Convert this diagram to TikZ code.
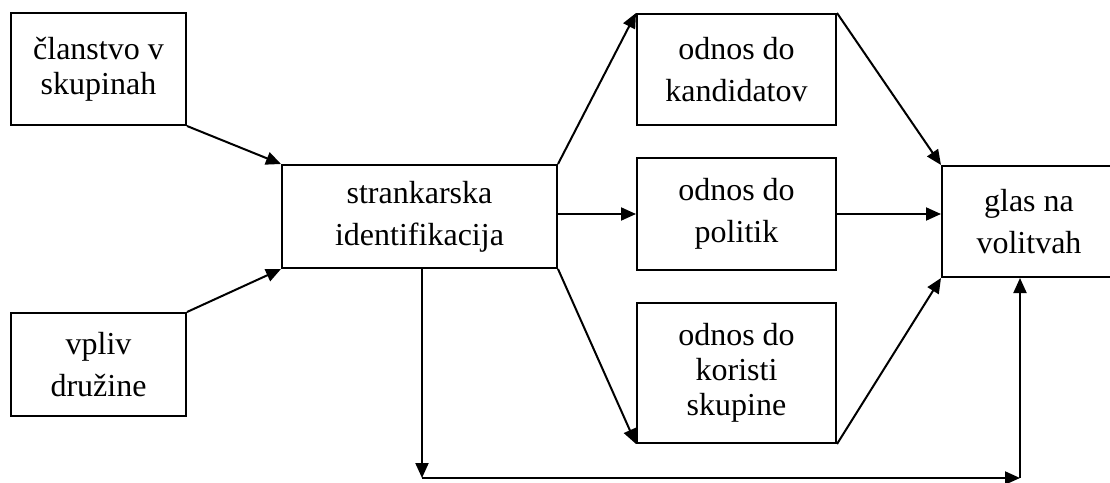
\documentclass[tikz,border=0pt]{standalone}
\usepackage{fontspec}
\setmainfont{Liberation Serif}
\usetikzlibrary{arrows.meta}
\begin{document}
\begin{tikzpicture}[x=1pt,y=-1pt,
  box/.style={draw,line width=2pt,rectangle,align=center,inner sep=0pt,
    font=\fontsize{32}{42}\selectfont},
  tight/.style={font=\fontsize{32}{35}\selectfont},
  arr/.style={line width=2pt,-{Triangle[length=15pt,width=13pt]}},
  ]
\useasboundingbox (0,0) rectangle (1110,482);
\node[box,tight,minimum width=175pt,minimum height=112pt] (A) at (98.5,69) {članstvo v\\skupinah};
\node[box,minimum width=175pt,minimum height=103pt] (B) at (98.5,364.5) {vpliv\\družine};
\node[box,minimum width=275pt,minimum height=103pt] (S) at (419.5,216.5) {strankarska\\identifikacija};
\node[box,minimum width=199pt,minimum height=111pt] (K) at (736.5,69.5) {odnos do\\kandidatov};
\node[box,minimum width=199pt,minimum height=112pt] (P) at (736.5,214) {odnos do\\politik};
\node[box,tight,minimum width=199pt,minimum height=140pt] (R) at (736.5,373) {odnos do\\koristi\\skupine};
\node[box,minimum width=174pt,minimum height=111pt] (G) at (1029,221.5) {glas na\\volitvah};
\coordinate (c1) at (422,478);
\coordinate (c2) at (1020,478);
\draw[arr] (A.south east) -- (S.north west);
\draw[arr] (B.north east) -- (S.south west);
\draw[arr] (S.north east) -- (K.north west);
\draw[arr] (S.east |- P.west) -- (P.west);
\draw[arr] (S.south east) -- (R.south west);
\draw[arr] (K.north east) -- (G.north west);
\draw[arr] (P.east) -- (P.east -| G.west);
\draw[arr] (R.south east) -- (G.south west);
\draw[arr] (S.south -| c1) -- (c1);
\draw[arr] (c1) -- (c2);
\draw[arr] (c2) -- (c2 |- G.south);
\end{tikzpicture}
\end{document}
